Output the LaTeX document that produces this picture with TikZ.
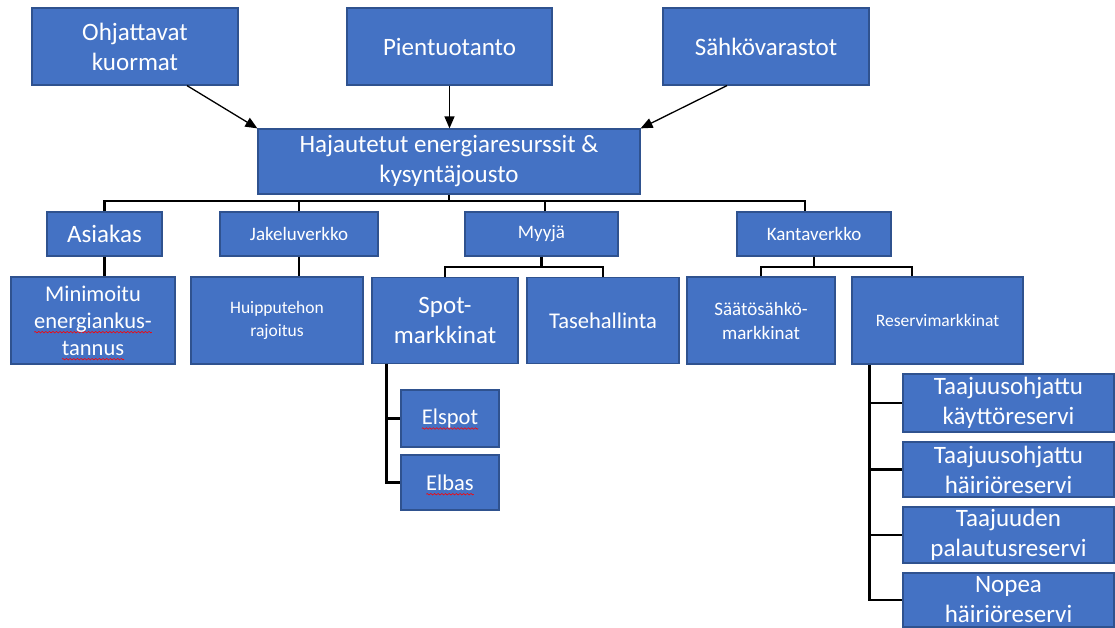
\documentclass[tikz,border=0pt]{standalone}
\usepackage{fontspec}
\setmainfont{Carlito}
\usetikzlibrary{arrows.meta}
\definecolor{boxfill}{HTML}{4472C4}
\definecolor{boxline}{HTML}{2F528F}
\newsavebox\wavebox
\newsavebox\wordbox
\newcommand{\redwave}[1]{\sbox\wordbox{#1}\rlap{\raisebox{-5pt}[0pt][0pt]{\hbox to \wd\wordbox{\xleaders\hbox{\usebox\wavebox}\hfill}}}\usebox\wordbox}
\begin{document}
\sbox\wavebox{\begin{pgfpicture}\pgfsetlinewidth{0.6pt}\pgfsetstrokecolor{red}%
\pgfpathmoveto{\pgfpoint{0pt}{0pt}}%
\pgfpathcurveto{\pgfpoint{0.6pt}{1pt}}{\pgfpoint{1.2pt}{1pt}}{\pgfpoint{1.75pt}{0pt}}%
\pgfpathcurveto{\pgfpoint{2.3pt}{-1pt}}{\pgfpoint{2.9pt}{-1pt}}{\pgfpoint{3.5pt}{0pt}}%
\pgfusepath{stroke}%
\pgfresetboundingbox
\pgfpathrectangle{\pgfpoint{0pt}{-1pt}}{\pgfpoint{3.5pt}{2pt}}\pgfusepath{use as bounding box}%
\end{pgfpicture}}%
\begin{tikzpicture}[x=1pt,y=-1pt,
  box/.style={draw=boxline, line width=1.2pt, fill=boxfill, text=white, align=center, inner sep=0pt},
  fA/.style={font=\fontsize{25}{30}\selectfont},
  fB/.style={font=\fontsize{22.5}{27}\selectfont},
  fC/.style={font=\fontsize{19}{24}\selectfont},
  fD/.style={font=\fontsize{17.5}{23}\selectfont},
  tree/.style={line width=2.8pt, draw=black},
  arr/.style={line width=1.3pt, draw=black, -{Triangle[length=12pt,width=10pt]}}]
\useasboundingbox (0,0) rectangle (1115,628);
% top row
\node[box, fA, minimum width=206pt, minimum height=77pt] (ohj) at (135,46.5) {Ohjattavat\\kuormat};
\node[box, fA, minimum width=205pt, minimum height=77pt] (pien) at (449.5,46.5) {Pientuotanto};
\node[box, fA, minimum width=206pt, minimum height=77pt] (sahk) at (766,46.5) {Sähkövarastot};
% centre
\node[box, fA, minimum width=382pt, minimum height=65pt] (haj) at (449,161.5) {Hajautetut energiaresurssit \&\\kysyntäjousto};
% second row
\node[box, fA, minimum width=115pt, minimum height=44pt] (asi) at (104.5,234) {Asiakas};
\node[box, fC, minimum width=158pt, minimum height=44pt] (jak) at (299,234) {Jakeluverkko};
\node[box, fC, minimum width=153pt, minimum height=44pt] (myy) at (541.5,234) {Myyjä};
\node[box, fC, minimum width=154pt, minimum height=44pt] (kan) at (814,234) {Kantaverkko};
% third row
\node[box, fB, minimum width=164pt, minimum height=87pt] (mini) at (93,320.5) {Minimoitu\\\redwave{energiankus-}\\\redwave{tannus}};
\node[box, fD, minimum width=172pt, minimum height=87pt] (hui) at (277,320.5) {Huipputehon\\rajoitus};
\node[box, fA, minimum width=146pt, minimum height=86pt] (spot) at (445,320.5) {Spot-\\markkinat};
\node[box, fB, minimum width=152pt, minimum height=86pt] (tase) at (603,320.5) {Tasehallinta};
\node[box, fC, minimum width=148pt, minimum height=87pt] (saat) at (761,320.5) {Säätösähkö-\\markkinat};
\node[box, fD, minimum width=171pt, minimum height=87pt] (res) at (937.5,320.5) {Reservimarkkinat};
% spot children
\node[box, fB, minimum width=98pt, minimum height=57pt] (elspot) at (450,418.5) {\redwave{Elspot}};
\node[box, fB, minimum width=98pt, minimum height=55pt] (elbas) at (450,482.5) {\redwave{Elbas}};
% reserve children
\node[box, fA, minimum width=211pt, minimum height=58pt] (r1) at (1008.5,403) {Taajuusohjattu\\käyttöreservi};
\node[box, fA, minimum width=211pt, minimum height=55pt] (r2) at (1008.5,469.5) {Taajuusohjattu\\häiriöreservi};
\node[box, fA, minimum width=211pt, minimum height=56pt] (r3) at (1008.5,535) {Taajuuden\\palautusreservi};
\node[box, fA, minimum width=211pt, minimum height=54pt] (r4) at (1008.5,600) {Nopea\\häiriöreservi};
% arrows
\draw[arr] ([xshift=52pt]ohj.south) -- (haj.north west);
\draw[arr] (pien.south) -- (pien.south |- haj.north);
\draw[arr] ([xshift=-39pt]sahk.south) -- (haj.north east);
% main bus
\coordinate (bus) at (0,201);
\draw[tree] (haj.south) -- (haj.south |- bus);
\draw[tree] (asi.north) -- (asi.north |- bus) -- ([xshift=-9pt]kan.north |- bus) -- ([xshift=-9pt]kan.north);
\draw[tree] (jak.north) -- (jak.north |- bus);
\draw[tree] ([xshift=3.5pt]myy.north) -- ([xshift=3.5pt]myy.north |- bus);
% second level
\draw[tree] (asi.south) -- (asi.south |- mini.north);
\draw[tree] (jak.south) -- (jak.south |- hui.north);
\coordinate (sb) at (0,267);
\draw[tree] (myy.south) -- (myy.south |- sb);
\draw[tree] (spot.north) -- (spot.north |- sb) -- (tase.north |- sb) -- (tase.north);
\draw[tree] (kan.south) -- (kan.south |- sb);
\draw[tree] (saat.north) -- (saat.north |- sb) -- ([xshift=-25.5pt]res.north |- sb) -- ([xshift=-25.5pt]res.north);
% spot children lines
\coordinate (sv) at ([xshift=15pt]spot.south west);
\draw[tree] (sv) |- (elbas.west);
\draw[tree] (sv |- elspot.west) -- (elspot.west);
% reserve children lines
\coordinate (rv) at ([xshift=18pt]res.south west);
\draw[tree] (rv) |- (r4.west);
\draw[tree] (rv |- r1.west) -- (r1.west);
\draw[tree] (rv |- r2.west) -- (r2.west);
\draw[tree] (rv |- r3.west) -- (r3.west);
\end{tikzpicture}
\end{document}
